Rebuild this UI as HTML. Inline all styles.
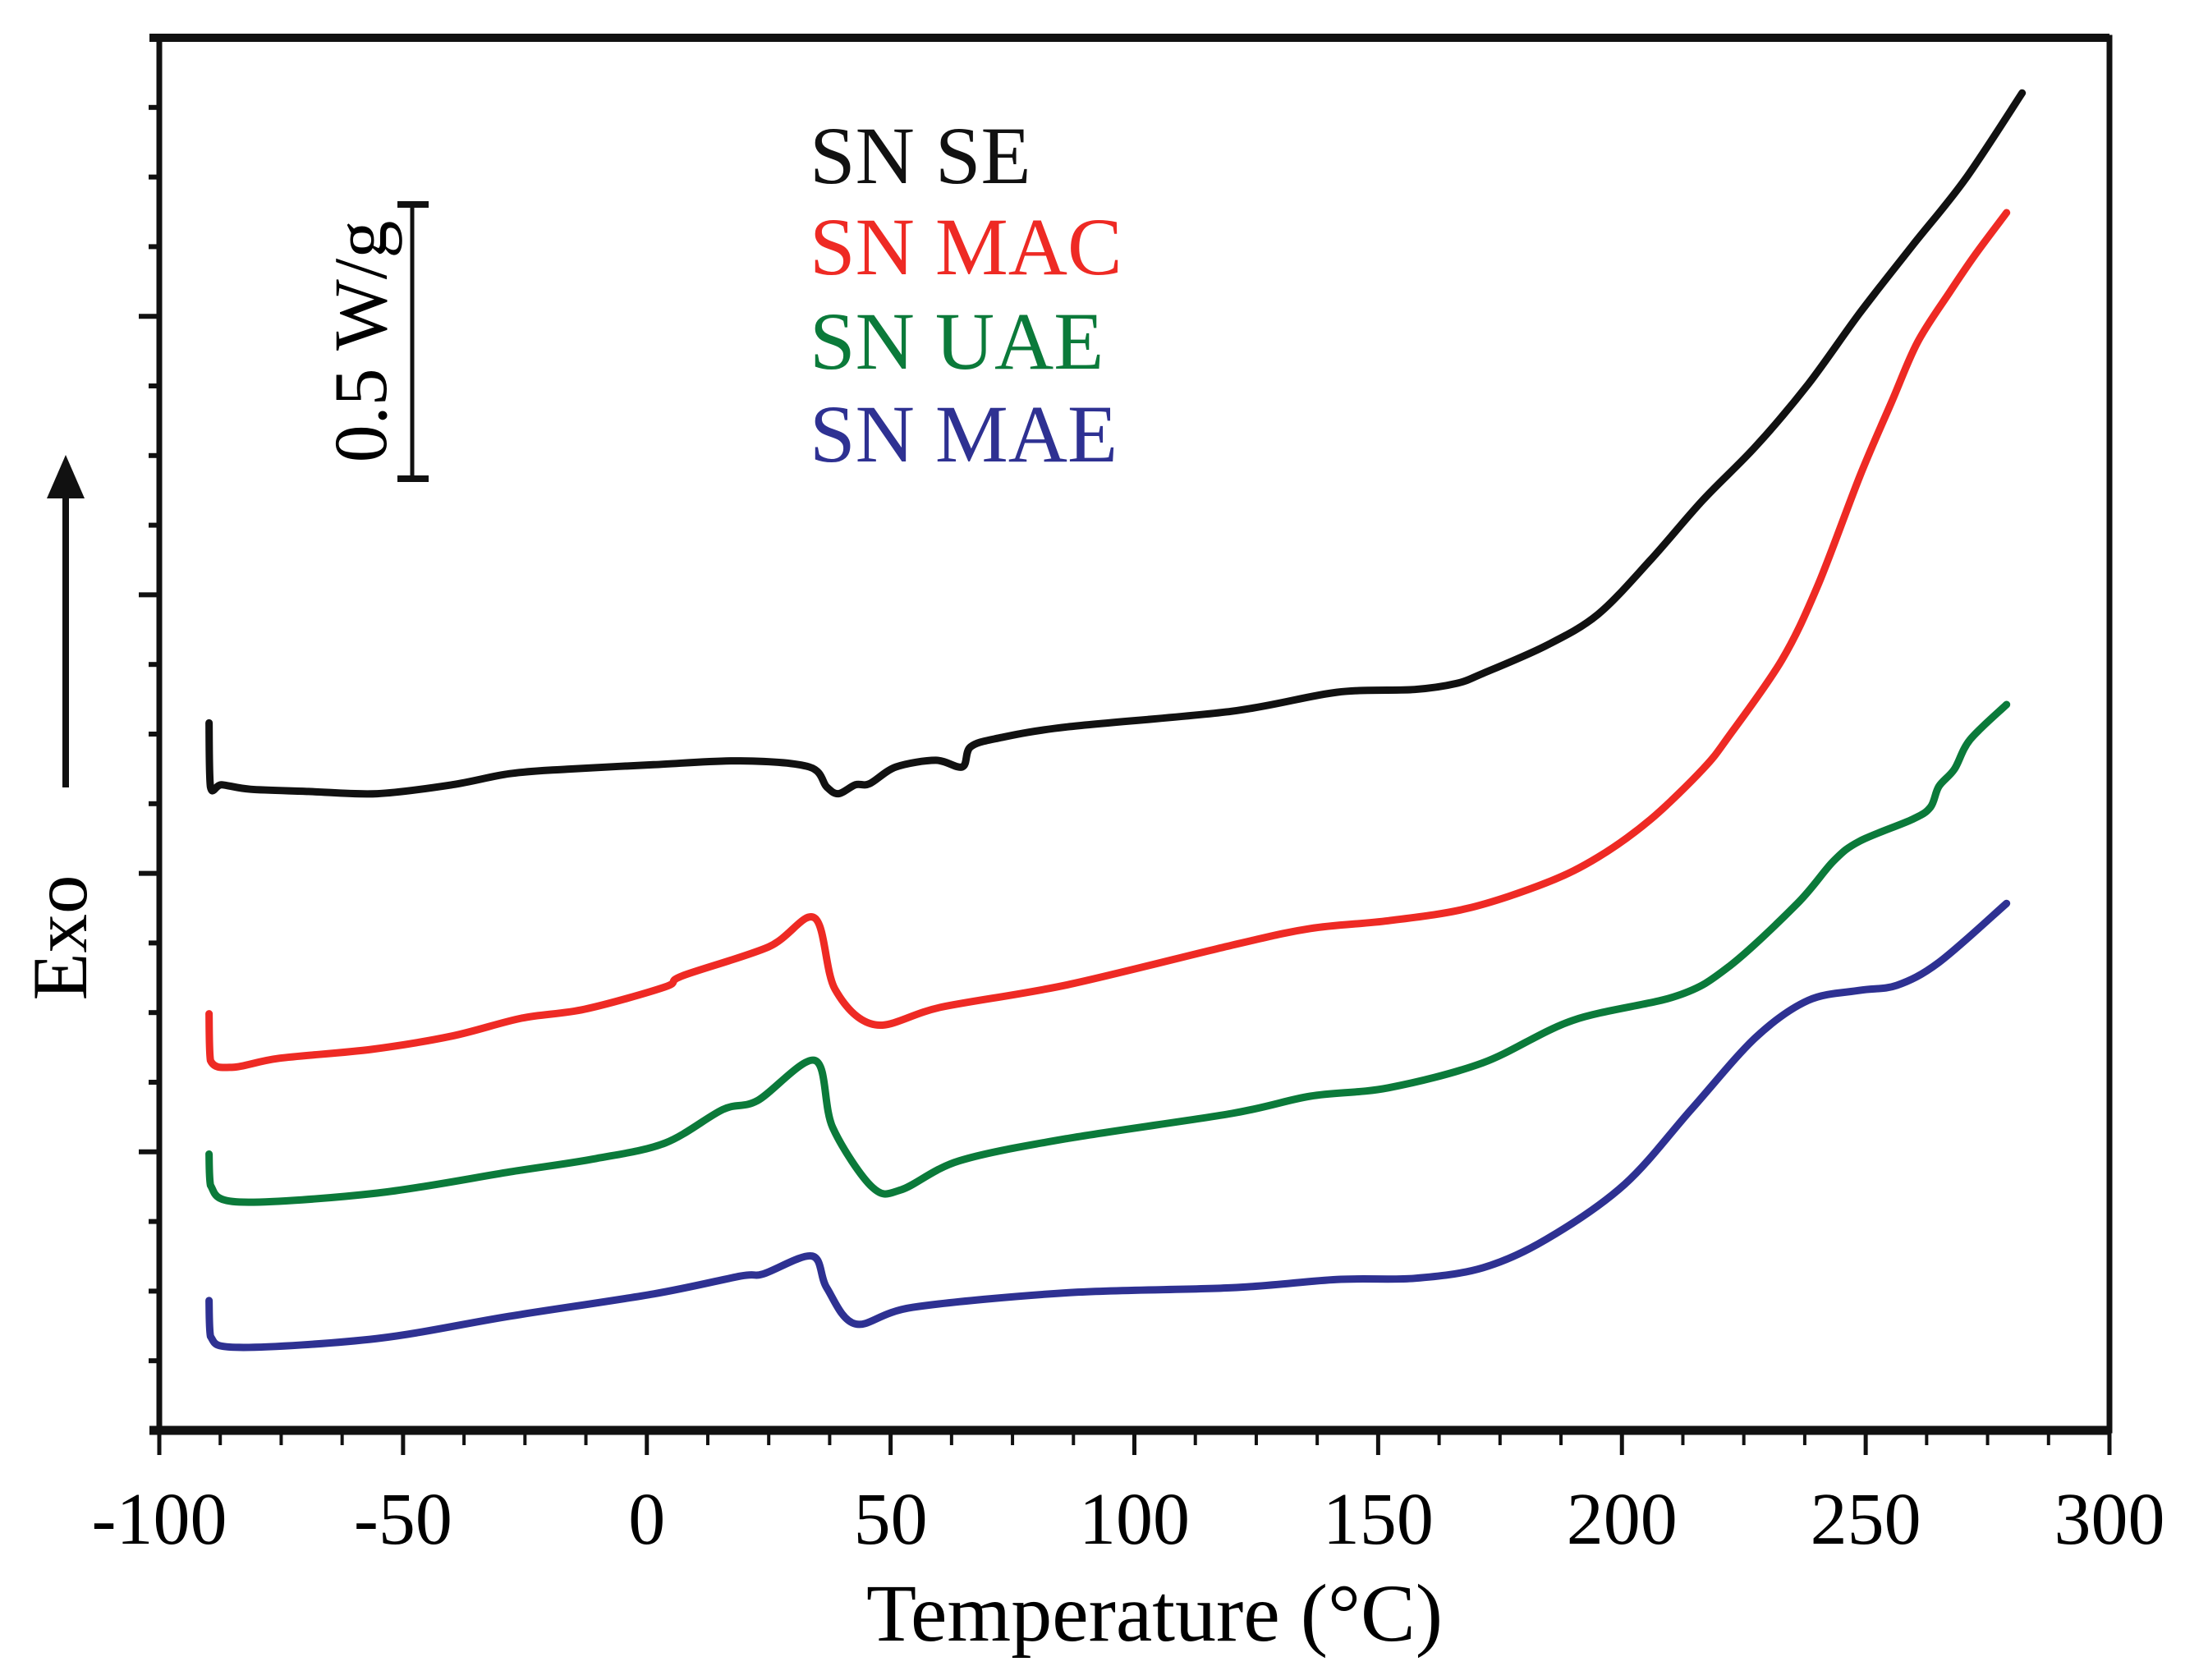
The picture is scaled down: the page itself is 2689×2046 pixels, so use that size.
<!DOCTYPE html>
<html><head><meta charset="utf-8">
<style>
html,body{margin:0;padding:0;background:#fff;}
svg{display:block;}
text{font-family:"Liberation Serif","Times New Roman",serif;}
</style></head>
<body>
<svg id="chart" width="2689" height="2046" viewBox="0 0 2689 2046" xmlns="http://www.w3.org/2000/svg">
<rect x="0" y="0" width="2689" height="2046" fill="#fff"/>
<g id="series"></g>
<g id="axes"></g>
<text x="1406" y="1998" font-size="100" text-anchor="middle">Temperature (°C)</text>
<text transform="translate(105,1142) rotate(-90)" font-size="95" text-anchor="middle">Exo</text>
<g>
<line x1="80" y1="959" x2="80" y2="600" stroke="#111" stroke-width="8"/>
<polygon points="80,554 57,607 103,607" fill="#111"/>
</g>
<g>
<line x1="502" y1="249" x2="502" y2="583" stroke="#111" stroke-width="5"/>
<line x1="484" y1="249" x2="522" y2="249" stroke="#111" stroke-width="8"/>
<line x1="484" y1="583" x2="522" y2="583" stroke="#111" stroke-width="8"/>
<text transform="translate(470,416) rotate(-90)" font-size="92" text-anchor="middle">0.5 W/g</text>
</g>
<g>
<text x="986" y="223" font-size="100" fill="#111111">SN SE</text>
<text x="986" y="334" font-size="100" fill="#ee2a24">SN MAC</text>
<text x="986" y="449" font-size="100" fill="#0b7a3a">SN UAE</text>
<text x="986" y="562" font-size="100" fill="#2e3192">SN MAE</text>
</g>
</svg>
<script>
// Data (Temperature °C, heat flow W/g offset)
var xTicks = [-100, -50, 0, 50, 100, 150, 200, 250, 300];
var xTickLabels = ["-100", "-50", "0", "50", "100", "150", "200", "250", "300"];
var yMajorTicks = [0.5, 1.0, 1.5, 2.0];

var seT = [-89.8,-89.5,-87.2,-81.3,-69.4,-55.3,-39.9,-28.1,-16.3,1.4,19.2,33.3,36.9,39.3,42.8,45.7,51.1,59.3,64.7,66.4,72.3,86.3,120.0,141.5,157.5,166.1,171.5,184.5,195.1,205.9,216.6,227.4,238.2,248.8,259.6,270.4,282.1];
var seV = [1.270,1.155,1.159,1.151,1.147,1.143,1.159,1.179,1.187,1.195,1.202,1.191,1.155,1.143,1.159,1.161,1.191,1.203,1.191,1.227,1.243,1.263,1.291,1.325,1.330,1.341,1.359,1.409,1.465,1.563,1.670,1.766,1.878,2.006,2.127,2.246,2.401];

var macT = [-89.8,-89.5,-84.8,-75.4,-56.5,-39.9,-25.7,-12.8,3.7,7.3,25.0,34.4,38.6,46.9,60.5,86.3,120.0,136.1,152.1,168.3,184.5,195.1,205.9,216.6,222.0,232.8,240.2,248.8,255.4,260.6,267.2,272.5,278.9];
var macV = [0.748,0.664,0.652,0.668,0.684,0.708,0.740,0.756,0.796,0.816,0.868,0.920,0.792,0.728,0.760,0.800,0.871,0.901,0.915,0.937,0.983,1.029,1.097,1.187,1.247,1.383,1.517,1.713,1.848,1.953,2.043,2.111,2.186];

var uaeT = [-89.8,-89.5,-83.6,-55.3,-28.1,-10.4,3.8,15.6,22.7,34.5,38.1,46.3,52.2,64.1,86.3,120.0,136.1,152.1,171.5,189.9,211.3,222.0,236.0,243.4,248.8,259.6,263.3,265.0,268.2,271.4,278.9];
var uaeV = [0.496,0.440,0.410,0.426,0.464,0.488,0.516,0.576,0.592,0.664,0.544,0.436,0.432,0.484,0.524,0.569,0.600,0.615,0.660,0.736,0.780,0.833,0.946,1.022,1.058,1.097,1.119,1.156,1.187,1.240,1.303];

var maeT = [-89.8,-89.5,-83.6,-55.3,-28.1,1.4,19.2,23.9,33.9,36.9,42.8,54.6,86.3,120.0,141.5,157.5,171.5,184.5,200.6,214.4,227.4,238.2,248.8,256.4,265.0,278.9];
var maeV = [0.233,0.169,0.149,0.165,0.205,0.245,0.277,0.281,0.313,0.256,0.191,0.221,0.247,0.256,0.271,0.273,0.292,0.343,0.442,0.578,0.705,0.772,0.790,0.799,0.840,0.946];

var NS = "http://www.w3.org/2000/svg";
var L = 194, R = 2569, T = 46, B = 1742;
var xMin = -100, xMax = 300, yMin = 0, yMax = 2.5;
function sx(v){ return L + (v - xMin) / (xMax - xMin) * (R - L); }
function sy(v){ return B - (v - yMin) / (yMax - yMin) * (B - T); }

var seriesG = document.getElementById('series');
var axesG = document.getElementById('axes');

function smoothPath(p){
  var d = 'M' + p[0][0].toFixed(1) + ',' + p[0][1].toFixed(1);
  var k = 0.16;
  for (var i = 0; i < p.length - 1; i++) {
    var p0 = p[i > 0 ? i - 1 : i], p1 = p[i], p2 = p[i + 1], p3 = p[i + 2 < p.length ? i + 2 : i + 1];
    var c1x = p1[0] + (p2[0] - p0[0]) * k, c1y = p1[1] + (p2[1] - p0[1]) * k;
    var c2x = p2[0] - (p3[0] - p1[0]) * k, c2y = p2[1] - (p3[1] - p1[1]) * k;
    // keep control points within segment x-range to avoid loops
    c1x = Math.min(Math.max(c1x, Math.min(p1[0], p2[0])), Math.max(p1[0], p2[0]));
    c2x = Math.min(Math.max(c2x, Math.min(p1[0], p2[0])), Math.max(p1[0], p2[0]));
    d += ' C' + c1x.toFixed(1) + ',' + c1y.toFixed(1) + ' ' + c2x.toFixed(1) + ',' + c2y.toFixed(1) + ' ' + p2[0].toFixed(1) + ',' + p2[1].toFixed(1);
  }
  return d;
}

function drawSeries(ts, vs, color, name){
  var pts = [];
  for (var i = 0; i < ts.length; i++) pts.push([sx(ts[i]), sy(vs[i])]);
  var pl = document.createElementNS(NS, 'path');
  pl.setAttribute('d', smoothPath(pts));
  pl.setAttribute('fill', 'none');
  pl.setAttribute('stroke', color);
  pl.setAttribute('stroke-width', '9');
  pl.setAttribute('stroke-linejoin', 'round');
  pl.setAttribute('stroke-linecap', 'round');
  
  
  seriesG.appendChild(pl);
}
drawSeries(seT, seV, '#111111', 'line-sn-se');
drawSeries(macT, macV, '#ee2a24', 'line-sn-mac');
drawSeries(uaeT, uaeV, '#0b7a3a', 'line-sn-uae');
drawSeries(maeT, maeV, '#2e3192', 'line-sn-mae');

function line(x1,y1,x2,y2,w,name){
  var l = document.createElementNS(NS, 'line');
  l.setAttribute('x1', x1); l.setAttribute('y1', y1);
  l.setAttribute('x2', x2); l.setAttribute('y2', y2);
  l.setAttribute('stroke', '#111');
  l.setAttribute('stroke-width', w);
  
  
  axesG.appendChild(l);
}
var fr = document.createElementNS(NS, 'rect');
fr.setAttribute('x', L); fr.setAttribute('y', T);
fr.setAttribute('width', R - L); fr.setAttribute('height', B - T);
fr.setAttribute('fill', 'none'); fr.setAttribute('stroke', '#111'); fr.setAttribute('stroke-width', '7');


axesG.appendChild(fr);
line(L - 12, B, R, B, 11, 'x-axis-line');
line(L - 12, T, R, T, 10, 'top-axis-line');

for (var v = xMin; v <= xMax + 0.01; v += 12.5) {
  var major = Math.abs(v % 50) < 0.01;
  line(sx(v), B, sx(v), B + (major ? 30 : 18), major ? 5 : 4, major ? 'x-major-tick' : 'x-minor-tick');
}
for (var i = 0; i < xTicks.length; i++) {
  var t = document.createElementNS(NS, 'text');
  t.setAttribute('x', sx(xTicks[i]));
  t.setAttribute('y', 1880);
  t.setAttribute('font-size', '90');
  t.setAttribute('text-anchor', 'middle');
  
  
  t.textContent = xTickLabels[i];
  axesG.appendChild(t);
}
for (var v2 = 0.125; v2 < yMax; v2 += 0.125) {
  var isMajor = false;
  for (var j = 0; j < yMajorTicks.length; j++) if (Math.abs(yMajorTicks[j] - v2) < 0.001) isMajor = true;
  line(L - (isMajor ? 25 : 13), sy(v2), L, sy(v2), 6, isMajor ? 'y-major-tick' : 'y-minor-tick');
}
</script>
</body></html>
